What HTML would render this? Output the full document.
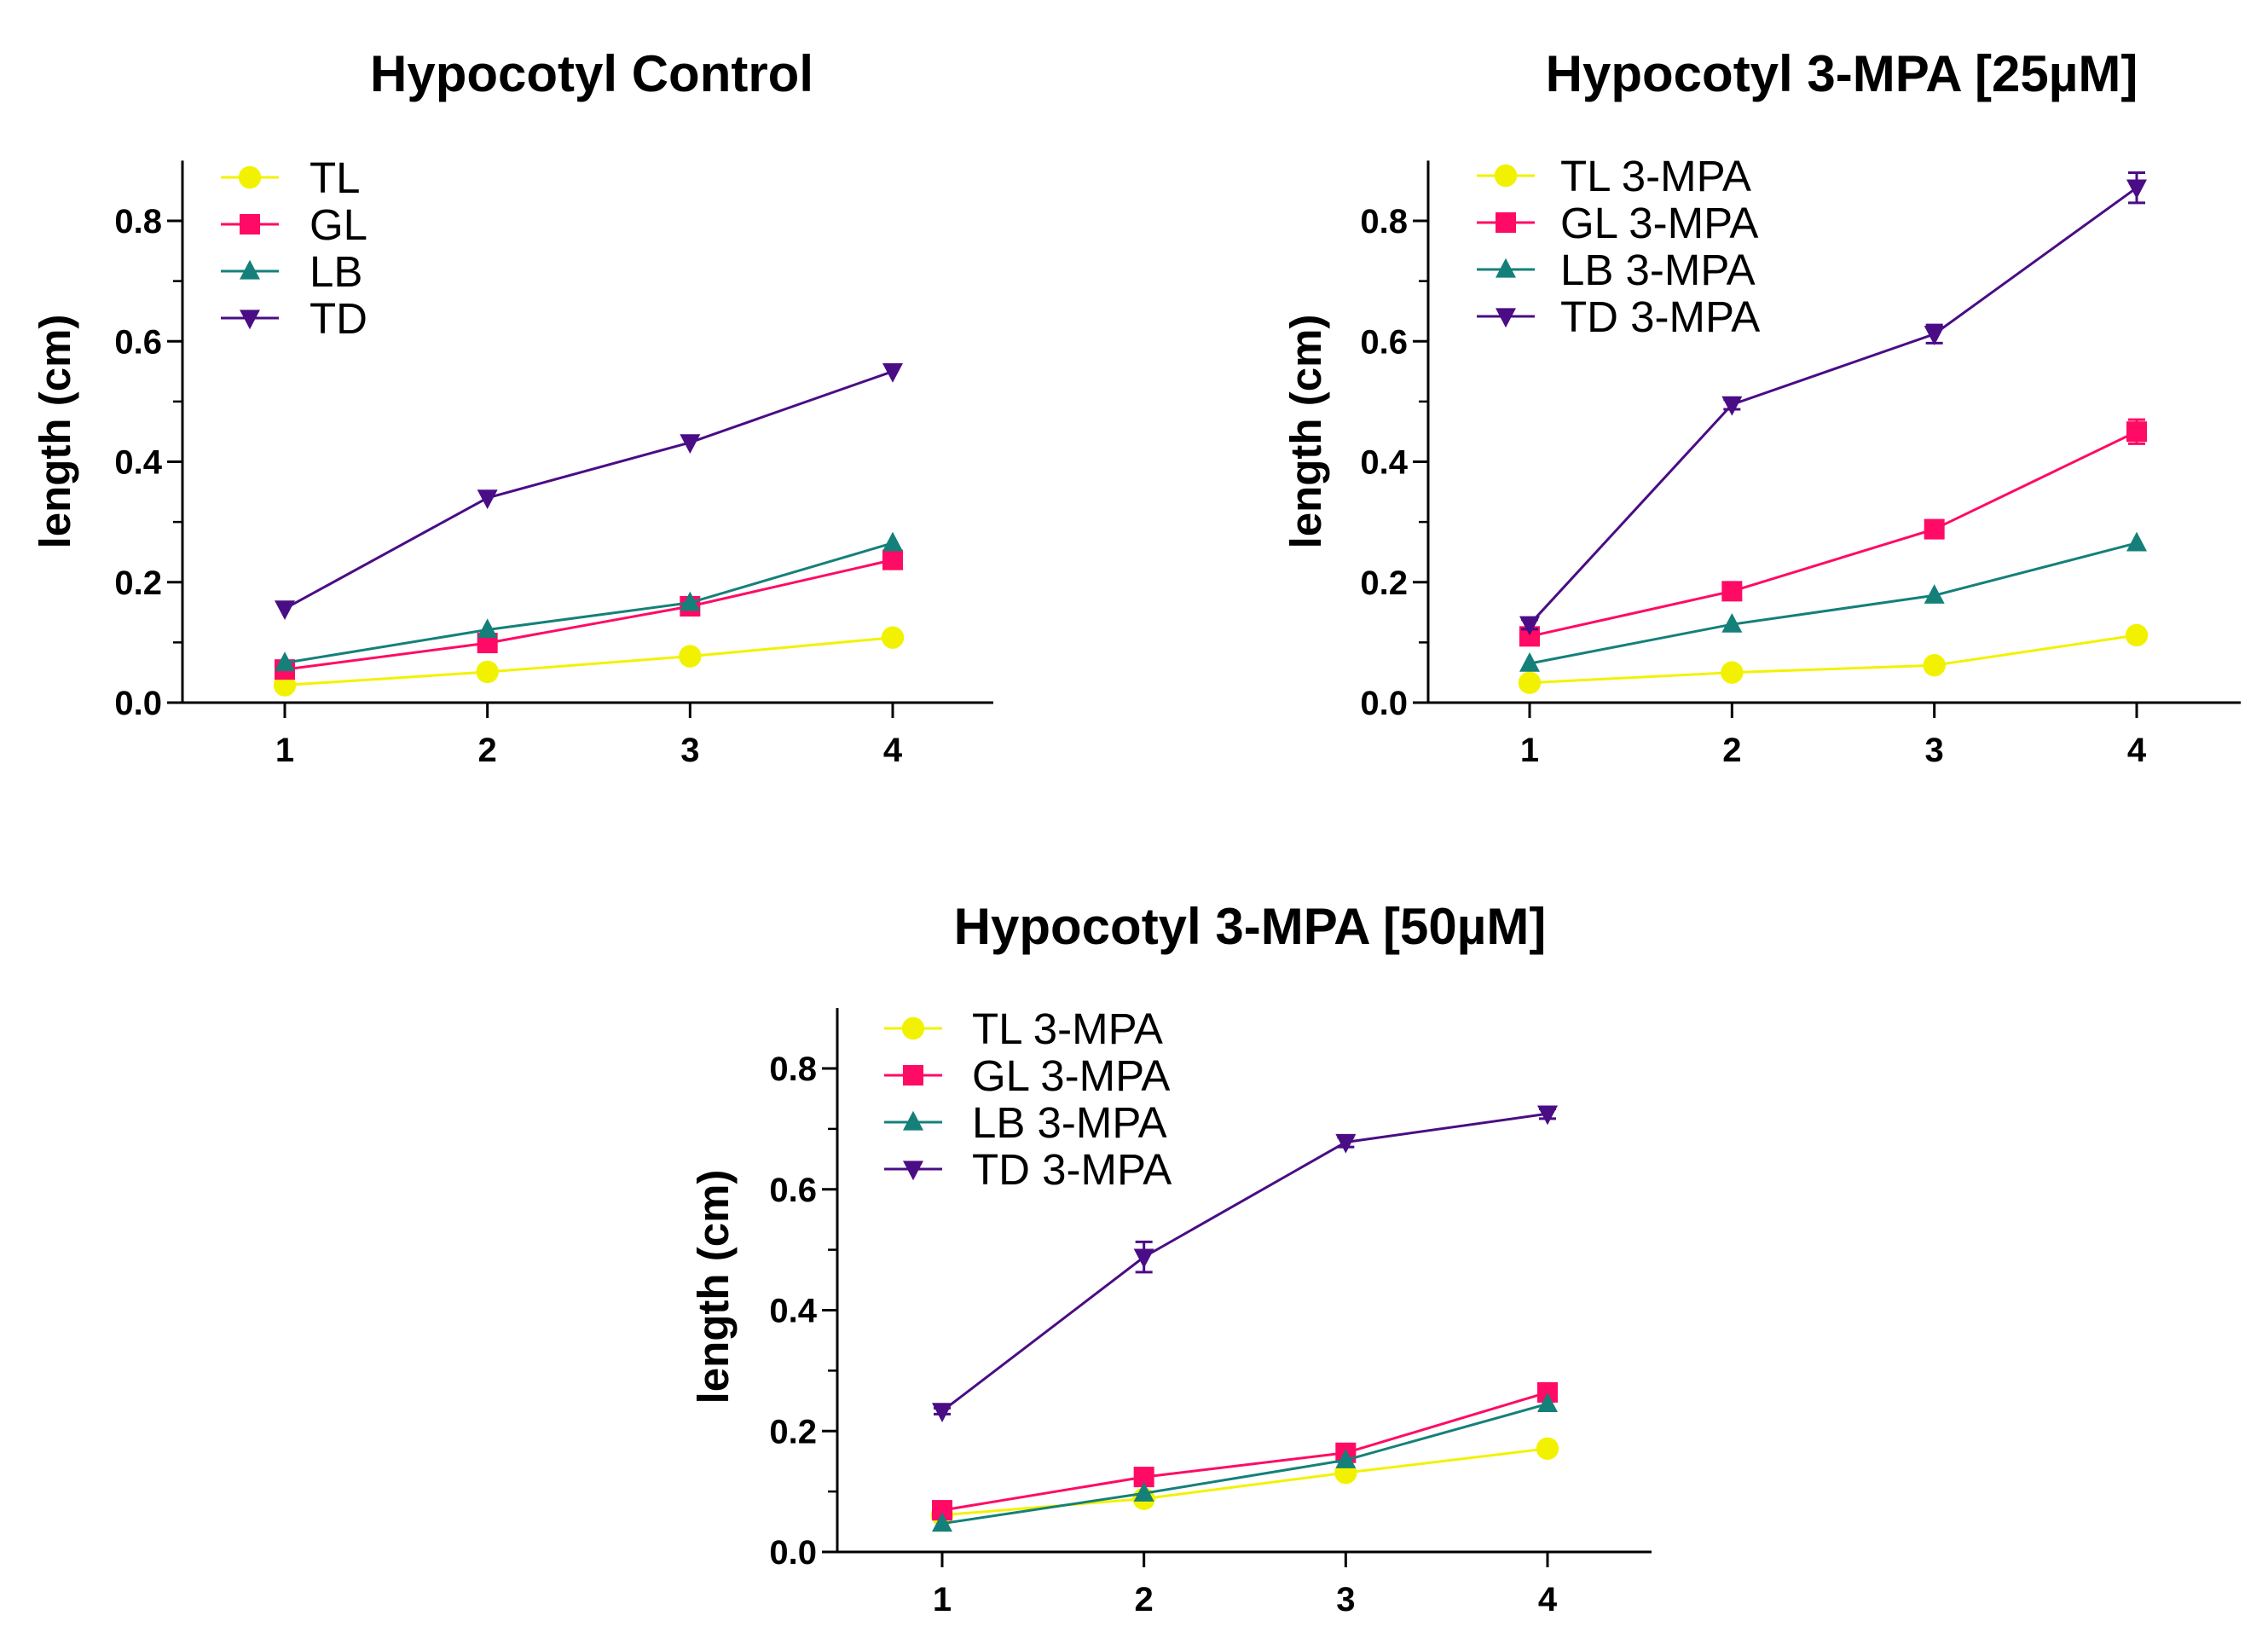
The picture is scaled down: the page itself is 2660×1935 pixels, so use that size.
<!DOCTYPE html>
<html><head><meta charset="utf-8"><style>
html,body{margin:0;padding:0;background:#fff;}
svg{display:block;font-family:"Liberation Sans",Arial,sans-serif;}
</style></head><body>
<svg id="fig" width="2660" height="1935" viewBox="0 0 2660 1935" xmlns="http://www.w3.org/2000/svg"></svg>
<script>
const xCategories = [1, 2, 3, 4];
const yTicks = [0.0, 0.2, 0.4, 0.6, 0.8];
const yTickLabels = ["0.0", "0.2", "0.4", "0.6", "0.8"];
const seriesNames = ["TL", "GL", "LB", "TD"];
const seriesColors = ["#f2f200", "#ff0a64", "#15807a", "#4a0d85"];
const seriesMarkers = ["circle", "square", "triangle", "invtriangle"];

const controlTL = [0.029, 0.051, 0.077, 0.108];
const controlGL = [0.055, 0.099, 0.160, 0.237];
const controlLB = [0.066, 0.121, 0.166, 0.265];
const controlTD = [0.156, 0.340, 0.432, 0.550];

const mpa25TL = [0.033, 0.050, 0.062, 0.112];
const mpa25GL = [0.110, 0.185, 0.288, 0.450];
const mpa25LB = [0.065, 0.130, 0.178, 0.265];
const mpa25TD = [0.130, 0.495, 0.612, 0.855];
const mpa25TDerr = [0.008, 0.008, 0.015, 0.025];
const mpa25GLerr = [0.005, 0.008, 0.012, 0.020];

const mpa50TL = [0.061, 0.088, 0.131, 0.171];
const mpa50GL = [0.069, 0.124, 0.164, 0.264];
const mpa50LB = [0.047, 0.097, 0.152, 0.245];
const mpa50TD = [0.233, 0.488, 0.678, 0.725];
const mpa50TDerr = [0.005, 0.025, 0.008, 0.008];

const NS = "http://www.w3.org/2000/svg";
const svg = document.getElementById("fig");
function mk(tag, attrs, parent) {
  const e = document.createElementNS(NS, tag);
  for (const k in attrs) e.setAttribute(k, attrs[k]);
  (parent || svg).appendChild(e);
  return e;
}
function marker(g, type, cx, cy, color, s) {
  let e;
  if (type === "circle") e = mk("circle", {cx: cx, cy: cy, r: s * 0.55, fill: color}, g);
  else if (type === "square") e = mk("rect", {x: cx - s / 2, y: cy - s / 2, width: s, height: s, fill: color}, g);
  else if (type === "triangle") e = mk("polygon", {points: `${cx},${cy - s * 0.55} ${cx - s * 0.5},${cy + s * 0.4} ${cx + s * 0.5},${cy + s * 0.4}`, fill: color}, g);
  else e = mk("polygon", {points: `${cx},${cy + s * 0.55} ${cx - s * 0.5},${cy - s * 0.4} ${cx + s * 0.5},${cy - s * 0.4}`, fill: color}, g);
  return e;
}

function chart(cfg) {
  const g = mk("g", {});
  
  
  const y0 = cfg.x0y, ax = cfg.axisX;
  const yScale = v => y0 - (v / 0.8) * (y0 - cfg.y08);
  const xScale = c => cfg.x1 + (c - 1) * (cfg.x4 - cfg.x1) / 3;

  const title = mk("text", {x: cfg.titleX, y: cfg.titleY, "text-anchor": "middle", "font-size": 60, "font-weight": "bold", fill: "#000"}, g);
  title.textContent = cfg.title;
  
  

  const yAxis = mk("line", {x1: ax, y1: yScale(0.9), x2: ax, y2: y0 + 1.5, stroke: "#000", "stroke-width": 3}, g);
  
  
  const xAxis = mk("line", {x1: ax - 18, y1: y0, x2: cfg.xEnd, y2: y0, stroke: "#000", "stroke-width": 3}, g);
  
  
  for (let i = 1; i <= 8; i += 2) {
    mk("line", {x1: ax - 11, y1: yScale(i / 10), x2: ax, y2: yScale(i / 10), stroke: "#000", "stroke-width": 2.5}, g);
  }
  yTicks.forEach((v, i) => {
    mk("line", {x1: ax - 18, y1: yScale(v), x2: ax, y2: yScale(v), stroke: "#000", "stroke-width": 3}, g);
    const t = mk("text", {x: ax - 24, y: yScale(v) + 14, "text-anchor": "end", "font-size": 40, "font-weight": "bold"}, g);
    t.textContent = yTickLabels[i];
    
    
  });
  xCategories.forEach(c => {
    mk("line", {x1: xScale(c), y1: y0, x2: xScale(c), y2: y0 + 18, stroke: "#000", "stroke-width": 3}, g);
    const t = mk("text", {x: xScale(c), y: y0 + 69, "text-anchor": "middle", "font-size": 40, "font-weight": "bold"}, g);
    t.textContent = c;
    
    
  });
  const yt = mk("text", {x: 0, y: 0, "text-anchor": "middle", "font-size": 51, "font-weight": "bold", transform: `translate(${cfg.yTitleX},${cfg.yTitleY}) rotate(-90)`}, g);
  yt.textContent = "length (cm)";
  
  

  cfg.series.forEach((vals, si) => {
    const color = seriesColors[si];
    const sg = mk("g", {}, g);
    
    
    const pts = vals.map((v, i) => `${xScale(xCategories[i])},${yScale(v)}`).join(" ");
    mk("polyline", {points: pts, fill: "none", stroke: color, "stroke-width": 3}, sg);
    const err = cfg.errors[si];
    vals.forEach((v, i) => {
      const cx = xScale(xCategories[i]);
      if (err) {
        const e = err[i];
        mk("line", {x1: cx, y1: yScale(v - e), x2: cx, y2: yScale(v + e), stroke: color, "stroke-width": 3}, sg);
        mk("line", {x1: cx - 10, y1: yScale(v + e), x2: cx + 10, y2: yScale(v + e), stroke: color, "stroke-width": 3}, sg);
        mk("line", {x1: cx - 10, y1: yScale(v - e), x2: cx + 10, y2: yScale(v - e), stroke: color, "stroke-width": 3}, sg);
      }
      const m = marker(sg, seriesMarkers[si], cx, yScale(v), color, 24);
      
      
    });
  });

  const lg = mk("g", {}, g);
  
  
  seriesNames.forEach((n, i) => {
    const ey = cfg.legY + i * cfg.legStep;
    const eg = mk("g", {}, lg);
    
    
    mk("line", {x1: cfg.legX - 34, y1: ey, x2: cfg.legX + 34, y2: ey, stroke: seriesColors[i], "stroke-width": 3}, eg);
    marker(eg, seriesMarkers[i], cfg.legX, ey, seriesColors[i], 24);
    const t = mk("text", {x: cfg.legTextX, y: ey + 18, "font-size": 51}, eg);
    t.textContent = n + cfg.suffix;
  });
}

chart({name: "chart-control", title: "Hypocotyl Control", titleX: 694, titleY: 107,
  axisX: 214, x0y: 824, y08: 259, x1: 334, x4: 1047, xEnd: 1165,
  yTitleX: 82, yTitleY: 506,
  series: [controlTL, controlGL, controlLB, controlTD], errors: [null, null, null, null],
  legX: 293, legTextX: 363, legY: 208, legStep: 55, suffix: ""});

chart({name: "chart-3mpa-25", title: "Hypocotyl  3-MPA [25\u00b5M]", titleX: 2160, titleY: 107,
  axisX: 1675, x0y: 824, y08: 259, x1: 1794, x4: 2506, xEnd: 2628,
  yTitleX: 1549, yTitleY: 506,
  series: [mpa25TL, mpa25GL, mpa25LB, mpa25TD], errors: [null, mpa25GLerr, null, mpa25TDerr],
  legX: 1766, legTextX: 1830, legY: 206, legStep: 55, suffix: " 3-MPA"});

chart({name: "chart-3mpa-50", title: "Hypocotyl 3-MPA [50\u00b5M]", titleX: 1466, titleY: 1107,
  axisX: 982, x0y: 1820, y08: 1253, x1: 1105, x4: 1815, xEnd: 1937,
  yTitleX: 854, yTitleY: 1509,
  series: [mpa50TL, mpa50GL, mpa50LB, mpa50TD], errors: [null, null, null, mpa50TDerr],
  legX: 1071, legTextX: 1140, legY: 1206, legStep: 55, suffix: " 3-MPA"});
</script>
</body></html>
